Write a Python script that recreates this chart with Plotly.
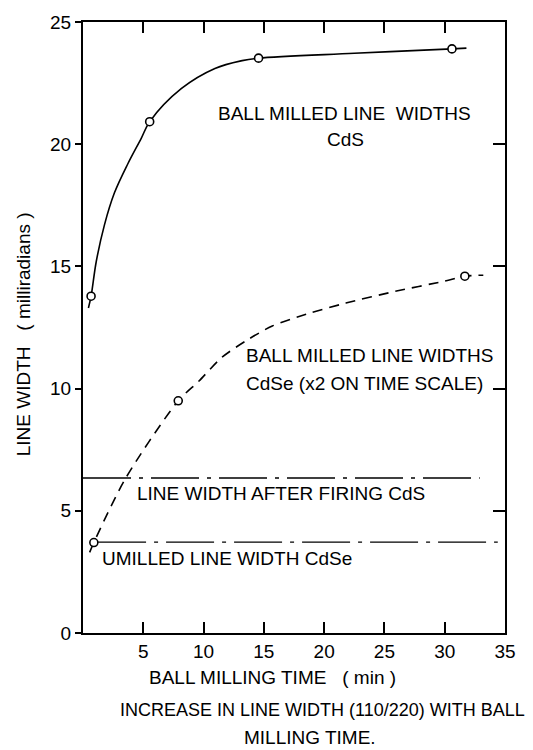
import plotly.graph_objects as go

# --- data ---
cds_curve_x = [0.45, 0.67, 1.1, 1.78, 2.6, 3.72, 4.83, 5.53, 8.17, 10.94, 13.2, 14.56, 22.5, 30.6, 31.8]
cds_curve_y = [13.3, 13.78, 15.2, 16.7, 18.0, 19.2, 20.24, 20.92, 22.28, 23.1, 23.42, 23.52, 23.72, 23.9, 23.93]
cds_pts_x = [0.67, 5.53, 14.56, 30.6]
cds_pts_y = [13.78, 20.92, 23.52, 23.9]

cdse_curve_x = [0.55, 0.9, 3.5, 7.9, 9.6, 11.5, 13.5, 15.7, 18.5, 21.8, 26.0, 30.0, 31.67, 33.2]
cdse_curve_y = [3.3, 3.7, 6.3, 9.5, 10.3, 11.27, 11.95, 12.56, 13.04, 13.5, 13.99, 14.4, 14.6, 14.64]
cdse_pts_x = [0.9, 7.9, 31.67]
cdse_pts_y = [3.7, 9.5, 14.6]

fired_cds_x = [0.0, 32.9]
fired_cds_y = [6.34, 6.34]
unmilled_cdse_x = [1.25, 34.4]
unmilled_cdse_y = [3.72, 3.72]

x_ticks = [5, 10, 15, 20, 25, 30, 35]
y_ticks = [0, 5, 10, 15, 20, 25]
top_ticks = [5, 10, 15, 20, 25, 30]
right_ticks = [5, 10, 15, 20]

FONT = "Liberation Sans, Arial, sans-serif"
BLACK = "black"
FS = 19

fig = go.Figure()

fig.add_trace(go.Scatter(x=cds_curve_x, y=cds_curve_y, mode="lines",
                         line=dict(color=BLACK, width=1.6, shape="spline", smoothing=1.0),
                         showlegend=False, hoverinfo="skip"))
fig.add_trace(go.Scatter(x=cdse_curve_x, y=cdse_curve_y, mode="lines",
                         line=dict(color=BLACK, width=1.6, shape="spline", smoothing=0.8,
                                   dash="10px,7px"),
                         showlegend=False, hoverinfo="skip"))
fig.add_trace(go.Scatter(x=fired_cds_x, y=fired_cds_y, mode="lines",
                         line=dict(color=BLACK, width=1.4, dash="48px,8px,4px,8px"),
                         showlegend=False, hoverinfo="skip"))
fig.add_trace(go.Scatter(x=unmilled_cdse_x, y=unmilled_cdse_y, mode="lines",
                         line=dict(color=BLACK, width=1.4, dash="48px,8px,4px,8px"),
                         showlegend=False, hoverinfo="skip"))
fig.add_trace(go.Scatter(x=cds_pts_x, y=cds_pts_y, mode="markers",
                         marker=dict(symbol="circle", size=8, color="white",
                                     line=dict(color=BLACK, width=1.6)),
                         showlegend=False))
fig.add_trace(go.Scatter(x=cdse_pts_x, y=cdse_pts_y, mode="markers",
                         marker=dict(symbol="circle", size=8, color="white",
                                     line=dict(color=BLACK, width=1.6)),
                         showlegend=False))
# invisible trace so the mirrored top/right axes are drawn
fig.add_trace(go.Scatter(x=[None], y=[None], xaxis="x2", yaxis="y2",
                         showlegend=False, hoverinfo="skip"))

fig.update_layout(
    width=533, height=750,
    margin=dict(l=83, r=28, t=20, b=117),
    paper_bgcolor="white", plot_bgcolor="white",
    font=dict(family=FONT, size=FS, color=BLACK),
    showlegend=False,
    xaxis=dict(range=[0, 35], tickvals=x_ticks, ticks="inside", ticklen=11,
               tickwidth=2, tickcolor=BLACK, showline=True, linewidth=2,
               linecolor=BLACK, showgrid=False, zeroline=False,
               tickfont=dict(size=FS, family=FONT)),
    yaxis=dict(range=[0, 25], tickvals=y_ticks, ticks="outside", ticklen=6,
               tickwidth=2, tickcolor=BLACK, showline=True, linewidth=2,
               linecolor=BLACK, showgrid=False, zeroline=False,
               tickfont=dict(size=FS, family=FONT)),
    xaxis2=dict(range=[0, 35], overlaying="x", side="top", tickvals=top_ticks,
                ticks="inside", ticklen=11, tickwidth=2, tickcolor=BLACK,
                showline=True, linewidth=2, linecolor=BLACK,
                showticklabels=False, showgrid=False, zeroline=False),
    yaxis2=dict(range=[0, 25], overlaying="y", side="right", tickvals=right_ticks,
                ticks="inside", ticklen=12, tickwidth=2, tickcolor=BLACK,
                showline=True, linewidth=2, linecolor=BLACK,
                showticklabels=False, showgrid=False, zeroline=False),
)

def note(text, x, y, xanchor="left", xref="x", yref="y", angle=0, size=FS):
    fig.add_annotation(text=text, x=x, y=y, xref=xref, yref=yref,
                       xanchor=xanchor, yanchor="middle", showarrow=False,
                       textangle=angle, font=dict(family=FONT, size=size, color=BLACK))

note("BALL MILLED LINE  WIDTHS", 21.7, 21.25, xanchor="center")
note("CdS", 21.8, 20.2, xanchor="center")
note("BALL MILLED LINE WIDTHS", 13.33, 11.34)
note("CdSe (x2 ON TIME SCALE)", 13.33, 10.2)
note("LINE WIDTH AFTER FIRING CdS", 4.33, 5.71)
note("UMILLED LINE WIDTH CdSe", 1.42, 3.06)

note("LINE WIDTH   ( milliradians )", -0.142, 0.489, xanchor="center",
     xref="paper", yref="paper", angle=-90)
note("BALL MILLING TIME   ( min )", 0.450, -0.0734, xanchor="center",
     xref="paper", yref="paper")
note("INCREASE IN LINE WIDTH (110/220) WITH BALL", 0.567, -0.1256,
     xanchor="center", xref="paper", yref="paper", size=18)
note("MILLING TIME.", 0.538, -0.171, xanchor="center", xref="paper", yref="paper")

fig.write_html("out.html")
